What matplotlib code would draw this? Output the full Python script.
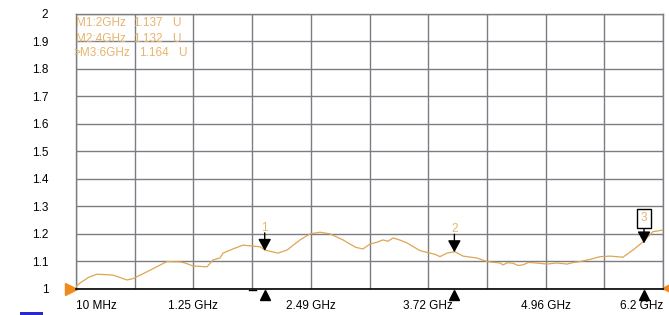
import matplotlib
matplotlib.use("Agg")
import matplotlib.pyplot as plt
import matplotlib.transforms as mtransforms
from matplotlib.patches import Rectangle

# ---- data ----
freq_ghz = [0.01, 0.052, 0.14, 0.228, 0.40, 0.548, 0.611, 0.759, 0.917, 0.970, 1.107, 1.160,
            1.244, 1.391, 1.455, 1.528, 1.560, 1.65, 1.771, 1.950, 2.003, 2.140, 2.235,
            2.372, 2.478, 2.583, 2.688, 2.826, 2.899, 2.96, 3.036, 3.110, 3.18, 3.247, 3.30,
            3.353, 3.43, 3.500, 3.637, 3.743, 3.80, 3.848, 3.922, 4.006, 4.091, 4.238,
            4.344, 4.481, 4.513, 4.56, 4.618, 4.67, 4.724, 4.78, 4.829, 4.977, 5.08, 5.188,
            5.26, 5.325, 5.430, 5.536, 5.641, 5.778, 5.883, 5.989, 6.094, 6.2]
vswr = [1.007, 1.020, 1.040, 1.052, 1.049, 1.031, 1.036, 1.061, 1.089, 1.098, 1.097, 1.093,
        1.082, 1.079, 1.104, 1.111, 1.129, 1.142, 1.158, 1.152, 1.140, 1.129, 1.140,
        1.177, 1.199, 1.205, 1.199, 1.177, 1.162, 1.150, 1.144, 1.162, 1.168, 1.177, 1.172,
        1.184, 1.176, 1.166, 1.138, 1.129, 1.124, 1.116, 1.129, 1.134, 1.118, 1.111,
        1.098, 1.093, 1.086, 1.094, 1.092, 1.084, 1.086, 1.095, 1.094, 1.089, 1.093, 1.089,
        1.095, 1.098, 1.106, 1.116, 1.118, 1.114, 1.140, 1.170, 1.207, 1.213]

y_ticks = [1.0, 1.1, 1.2, 1.3, 1.4, 1.5, 1.6, 1.7, 1.8, 1.9, 2.0]
y_tick_labels = ["1", "1.1", "1.2", "1.3", "1.4", "1.5", "1.6", "1.7", "1.8", "1.9", "2"]
x_grid = [0.01, 0.629, 1.248, 1.867, 2.486, 3.105, 3.724, 4.343, 4.962, 5.581, 6.2]
x_tick_labels = ["10 MHz", "", "1.25 GHz", "", "2.49 GHz", "", "3.72 GHz", "", "4.96 GHz", "", "6.2 GHz"]

marker_names = ["1", "2", "3"]
marker_freq = [2.0, 4.0, 6.0]
marker_vals = [1.137, 1.132, 1.164]
marker_rows = [("M1:2GHz", "1.137", "U"), ("M2:4GHz", "1.132", "U"), (">M3:6GHz", "1.164", "U")]

# ---- layout ----
W, H = 669, 315
fig = plt.figure(figsize=(W / 100, H / 100), dpi=100)
plt.rcParams['font.family'] = ['Liberation Sans', 'DejaVu Sans']
L, R, T, B = 76, 663, 14, 288.5
ax = fig.add_axes([L / W, (H - B) / H, (R - L) / W, (B - T) / H])

trace_col = "#DFA552"
grid_col = "#7C7C84"
label_col = "#E6B46E"

ax.set_xlim(x_grid[0], x_grid[-1])
ax.set_ylim(1.0, 2.0)
ax.set_xticks(x_grid)
ax.set_xticklabels(x_tick_labels, fontsize=8.5)
ax.set_yticks(y_ticks)
ax.set_yticklabels(y_tick_labels, fontsize=8.5)
ax.tick_params(length=0, pad=0)
ax.tick_params(axis='y', pad=20)
ax.tick_params(axis='x', pad=8)
labs = ax.get_xticklabels()
labs[0].set_ha("left")
labs[-1].set_ha("right")
ax.grid(True, color=grid_col, lw=1.0)
for s in ["top", "left", "right"]:
    ax.spines[s].set_color(grid_col)
    ax.spines[s].set_linewidth(1.0)
ax.spines["bottom"].set_color("black")
ax.spines["bottom"].set_linewidth(1.2)

ax.plot(freq_ghz, vswr, color=trace_col, lw=0.9, zorder=3)

# marker arrows and labels
for name, f, v in zip(marker_names, marker_freq, marker_vals):
    ax.annotate("", xy=(f, v), xytext=(0, 18), textcoords="offset pixels",
                arrowprops=dict(arrowstyle="-|>,head_length=0.55,head_width=0.3",
                                color="black", lw=1.0, mutation_scale=13, shrinkA=0, shrinkB=0),
                zorder=5)
    if name == "3":
        ax.annotate(name, xy=(f, v), xytext=(0, 25), textcoords="offset pixels",
                    ha="center", va="center", fontsize=8.5, color=label_col,
                    bbox=dict(boxstyle="square,pad=0.3", fc="white", ec="black", lw=1.0),
                    zorder=6)
    else:
        ax.annotate(name, xy=(f, v), xytext=(0, 23), textcoords="offset pixels",
                    ha="center", va="center", fontsize=8.5, color=label_col, zorder=6)

# bottom triangles under markers
tri_tr = mtransforms.offset_copy(ax.get_xaxis_transform(), fig=fig, x=0, y=-6, units="dots")
ax.plot(marker_freq, [0] * len(marker_freq), ls="none", marker="^", ms=6.5,
        color="black", transform=tri_tr, clip_on=False)
dash_tr = mtransforms.offset_copy(ax.get_xaxis_transform(), fig=fig, x=0, y=-1, units="dots")
ax.plot([marker_freq[0] - 0.17, marker_freq[0] - 0.09], [0, 0], color="black", lw=1.0,
        transform=dash_tr, clip_on=False)

# reference-level triangles
lt = mtransforms.offset_copy(ax.transAxes, fig=fig, x=-5, y=0, units="dots")
ax.plot([0], [0], marker=">", ms=8, color="#F08A1C", transform=lt, clip_on=False, ls="none")
rt = mtransforms.offset_copy(ax.transAxes, fig=fig, x=5, y=1, units="dots")
ax.plot([1], [0], marker="<", ms=8, color="#F08A1C", transform=rt, clip_on=False, ls="none")

# marker table top-left
row_y = [23.5, 38.5, 53]
col_x = [(76, 133, 172), (76, 133, 172), (73, 139, 178)]
for (a, b, c), yy, xs in zip(marker_rows, row_y, col_x):
    for txt, xx in zip((a, b, c), xs):
        fig.text(xx / W, 1 - yy / H, txt, fontsize=8.5, color=label_col,
                 ha="left", va="center")

# small blue legend box at the bottom-left edge
fig.patches.append(Rectangle((20 / W, 0), 23 / W, 3 / H, transform=fig.transFigure,
                             fc="#2A2ACC", ec="none"))

fig.savefig("out.png", dpi=100)
